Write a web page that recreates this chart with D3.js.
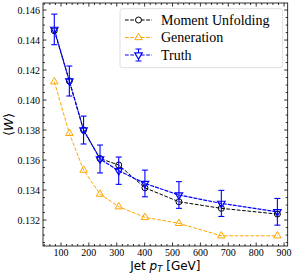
<!DOCTYPE html>
<html><head><meta charset="utf-8">
<script src="https://cdn.jsdelivr.net/npm/d3@7"></script>
<style>body{margin:0;background:#fff}svg{display:block}</style>
</head><body>
<script>
const ptBins = [76, 130, 181, 240, 307, 401, 523, 675, 876];
const momentUnfolding = [0.14462, 0.14127, 0.13800, 0.13610, 0.13567, 0.13415, 0.13322, 0.13278, 0.13240];
const generation = [0.14122, 0.13778, 0.13533, 0.13373, 0.13289, 0.13218, 0.13178, 0.13095, 0.13095];
const truth = [0.14471, 0.14127, 0.13800, 0.13607, 0.13529, 0.13444, 0.13367, 0.13311, 0.13255];
const truthErr = [0.00102, 0.00100, 0.00093, 0.00093, 0.00091, 0.00089, 0.00089, 0.00087, 0.00089];
const xTicks = [100, 200, 300, 400, 500, 600, 700, 800, 900];
const yTicks = [0.132, 0.134, 0.136, 0.138, 0.140, 0.142, 0.144, 0.146];
const legendLabels = ["Moment Unfolding", "Generation", "Truth"];

const W = 297, H = 274;
const m = {l: 43, r: 9.3, t: 3, b: 28};
const svg = d3.select("body").append("svg").attr("width", W).attr("height", H);
const x = d3.scaleLinear().domain([35.5, 913]).range([m.l, W - m.r]);
const y = d3.scaleLinear().domain([0.13027, 0.14647]).range([H - m.b, m.t]);

const g = svg.append("g");
const serif = "Liberation Serif, DejaVu Serif, serif";

const xMinor = d3.range(40, 913, 20).filter(v => v % 100 !== 0);
const yMinor = d3.range(0.1305, 0.1465, 0.0005).filter(v => Math.abs(v / 0.002 - Math.round(v / 0.002)) > 0.01);

function tickMarks(sel, vals, len, isX, top) {
  vals.forEach(v => {
    if (isX) {
      const px = x(v);
      sel.append("line").attr("x1", px).attr("x2", px)
        .attr("y1", top ? m.t : H - m.b).attr("y2", top ? m.t + len : H - m.b - len)
        .attr("stroke", "#000").attr("stroke-width", 0.8);
    } else {
      const py = y(v);
      sel.append("line").attr("y1", py).attr("y2", py)
        .attr("x1", top ? W - m.r : m.l).attr("x2", top ? W - m.r - len : m.l + len)
        .attr("stroke", "#000").attr("stroke-width", 0.8);
    }
  });
}
const tk = g.append("g");
[false, true].forEach(side => {
  tickMarks(tk, xTicks, 3.5, true, side);
  tickMarks(tk, xMinor, 2, true, side);
  tickMarks(tk, yTicks, 3.5, false, side);
  tickMarks(tk, yMinor, 2, false, side);
});

g.append("g").selectAll("text").data(xTicks).join("text")
  .attr("x", d => x(d)).attr("y", H - m.b + 9.5)
  .attr("text-anchor", "middle").attr("font-family", serif).attr("font-size", 10).attr("fill", "#000")
  .text(d => d);
g.append("g").selectAll("text").data(yTicks).join("text")
  .attr("x", m.l - 3).attr("y", d => y(d) + 3.5)
  .attr("text-anchor", "end").attr("font-family", serif).attr("font-size", 10).attr("fill", "#000")
  .text(d => d.toFixed(3));

g.append("rect").attr("x", m.l).attr("y", m.t).attr("width", W - m.r - m.l).attr("height", H - m.b - m.t)
  .attr("fill", "none").attr("stroke", "#000").attr("stroke-width", 0.8);

const xl = svg.append("text").attr("x", (m.l + W - m.r) / 2).attr("y", 269.5)
  .attr("text-anchor", "middle").attr("font-family", "DejaVu Sans, sans-serif").attr("font-size", 12).attr("fill", "#000");
xl.append("tspan").text("Jet ");
xl.append("tspan").attr("font-style", "italic").text("p");
xl.append("tspan").attr("font-style", "italic").attr("font-size", 8.5).attr("dy", 2.5).text("T");
xl.append("tspan").attr("dy", -2.5).text(" [GeV]");

const yl = svg.append("text").attr("transform", `translate(13,${(m.t + H - m.b) / 2}) rotate(-90)`)
  .attr("text-anchor", "middle").attr("font-family", "DejaVu Sans, sans-serif").attr("font-size", 13).attr("fill", "#000");
yl.append("tspan").text("⟨");
yl.append("tspan").attr("font-style", "italic").text("W");
yl.append("tspan").text("⟩");

const line = d3.line().x((d, i) => x(ptBins[i])).y(d => y(d));
const dash = "3.7,1.6";
const cOrange = "#FFA500", cBlue = "#0000FF", cBlack = "#000";

const triUp = d3.symbol().type(d3.symbolTriangle).size(24);
const plot = svg.append("g");

plot.append("path").datum(generation).attr("d", line).attr("fill", "none")
  .attr("stroke", cOrange).attr("stroke-width", 1).attr("stroke-dasharray", dash);
plot.append("g").selectAll("path").data(generation).join("path")
  .attr("d", triUp).attr("transform", (d, i) => `translate(${x(ptBins[i])},${y(d)})`)
  .attr("fill", "none").attr("stroke", cOrange).attr("stroke-width", 1);

plot.append("path").datum(momentUnfolding).attr("d", line).attr("fill", "none")
  .attr("stroke", cBlack).attr("stroke-width", 1).attr("stroke-dasharray", dash);
plot.append("g").selectAll("circle").data(momentUnfolding).join("circle")
  .attr("cx", (d, i) => x(ptBins[i])).attr("cy", d => y(d)).attr("r", 3)
  .attr("fill", "none").attr("stroke", cBlack).attr("stroke-width", 1);

plot.append("path").datum(truth).attr("d", line).attr("fill", "none")
  .attr("stroke", cBlue).attr("stroke-width", 1.2).attr("stroke-dasharray", "4,1");
const eb = plot.append("g").attr("stroke", cBlue).attr("stroke-width", 1.1);
truth.forEach((v, i) => {
  const px = x(ptBins[i]);
  const y1 = y(v - truthErr[i]), y2 = y(v + truthErr[i]);
  eb.append("line").attr("x1", px).attr("x2", px).attr("y1", y1).attr("y2", y2);
  eb.append("line").attr("x1", px - 3).attr("x2", px + 3).attr("y1", y1).attr("y2", y1);
  eb.append("line").attr("x1", px - 3).attr("x2", px + 3).attr("y1", y2).attr("y2", y2);
});
plot.append("g").selectAll("path").data(truth).join("path")
  .attr("d", triUp).attr("transform", (d, i) => `translate(${x(ptBins[i])},${y(d)}) rotate(180)`)
  .attr("fill", "none").attr("stroke", cBlue).attr("stroke-width", 1.2);

const lg = svg.append("g");
lg.append("rect").attr("x", 120).attr("y", 8.7).attr("width", 162.7).attr("height", 59).attr("rx", 2.5)
  .attr("fill", "#fff").attr("fill-opacity", 0.8).attr("stroke", "#d6d6d6").attr("stroke-width", 0.8);
const rowsY = [20, 37.5, 55];
const hx1 = 125, hx2 = 152, hm = 138.5;
lg.append("line").attr("x1", hx1).attr("x2", hx2).attr("y1", rowsY[0]).attr("y2", rowsY[0])
  .attr("stroke", cBlack).attr("stroke-dasharray", dash);
lg.append("circle").attr("cx", hm).attr("cy", rowsY[0]).attr("r", 3).attr("fill", "#fff").attr("stroke", cBlack);
lg.append("line").attr("x1", hx1).attr("x2", hx2).attr("y1", rowsY[1]).attr("y2", rowsY[1])
  .attr("stroke", cOrange).attr("stroke-dasharray", dash);
lg.append("path").attr("d", triUp).attr("transform", `translate(${hm},${rowsY[1]})`).attr("fill", "#fff").attr("stroke", cOrange);
lg.append("line").attr("x1", hx1).attr("x2", hx2).attr("y1", rowsY[2]).attr("y2", rowsY[2])
  .attr("stroke", cBlue).attr("stroke-dasharray", dash);
lg.append("line").attr("x1", hm).attr("x2", hm).attr("y1", rowsY[2] - 6).attr("y2", rowsY[2] + 6).attr("stroke", cBlue);
lg.append("line").attr("x1", hm - 3).attr("x2", hm + 3).attr("y1", rowsY[2] - 6).attr("y2", rowsY[2] - 6).attr("stroke", cBlue);
lg.append("line").attr("x1", hm - 3).attr("x2", hm + 3).attr("y1", rowsY[2] + 6).attr("y2", rowsY[2] + 6).attr("stroke", cBlue);
lg.append("path").attr("d", triUp).attr("transform", `translate(${hm},${rowsY[2]}) rotate(180)`).attr("fill", "#fff").attr("stroke", cBlue).attr("stroke-width", 1.2);

lg.selectAll("text.lab").data(legendLabels).join("text").attr("class", "lab")
  .attr("x", 161).attr("y", (d, i) => rowsY[i] + 4.5)
  .attr("font-family", serif).attr("font-size", 14).attr("fill", "#000").text(d => d);
</script>
</body></html>
